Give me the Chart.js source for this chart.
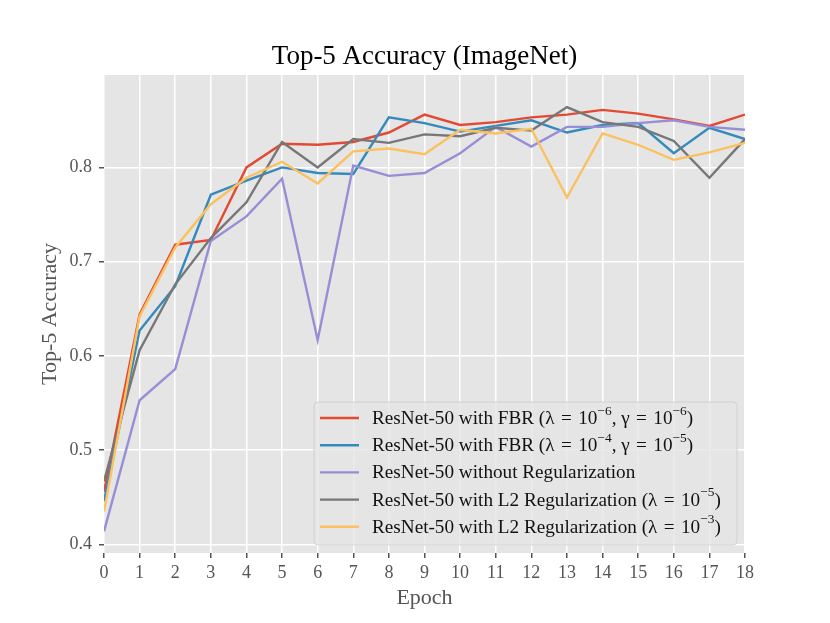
<!DOCTYPE html>
<html>
<head>
<meta charset="utf-8">
<title>Top-5 Accuracy (ImageNet)</title>
<script src="https://cdn.jsdelivr.net/npm/chart.js@4.4.1/dist/chart.umd.min.js"></script>
<style>
  html, body { margin: 0; padding: 0; background: #fff; }
  canvas { display: block; }
</style>
</head>
<body>
<canvas id="accChart" width="830" height="623"></canvas>
<script>
// data
const epochs = [0, 1, 2, 3, 4, 5, 6, 7, 8, 9, 10, 11, 12, 13, 14, 15, 16, 17, 18];
const yTicks = [0.4, 0.5, 0.6, 0.7, 0.8];

const fbrSmall = [0.456, 0.644, 0.718, 0.723, 0.800, 0.825, 0.824, 0.827, 0.837, 0.856, 0.845, 0.848, 0.853, 0.856, 0.861, 0.857, 0.851, 0.844, 0.856];
const fbrLarge = [0.446, 0.627, 0.674, 0.771, 0.786, 0.800, 0.794, 0.793, 0.853, 0.847, 0.838, 0.844, 0.850, 0.837, 0.845, 0.847, 0.815, 0.842, 0.830];
const noReg    = [0.414, 0.553, 0.586, 0.722, 0.748, 0.788, 0.617, 0.802, 0.791, 0.794, 0.815, 0.843, 0.822, 0.843, 0.843, 0.847, 0.850, 0.843, 0.840];
const l2Small  = [0.467, 0.606, 0.676, 0.725, 0.763, 0.827, 0.800, 0.830, 0.826, 0.835, 0.833, 0.842, 0.839, 0.864, 0.848, 0.843, 0.828, 0.789, 0.830];
const l2Large  = [0.435, 0.642, 0.715, 0.761, 0.789, 0.806, 0.783, 0.817, 0.820, 0.814, 0.840, 0.836, 0.841, 0.768, 0.836, 0.824, 0.808, 0.816, 0.826];

const seriesLabels = [
    "ResNet-50 with FBR (λ = 10^{−6}, γ = 10^{−6})",
    "ResNet-50 with FBR (λ = 10^{−4}, γ = 10^{−5})",
    "ResNet-50 without Regularization",
    "ResNet-50 with L2 Regularization (λ = 10^{−5})",
    "ResNet-50 with L2 Regularization (λ = 10^{−3})"
];
const seriesValues = [fbrSmall, fbrLarge, noReg, l2Small, l2Large];
const seriesColors = ["#E24A33", "#348ABD", "#988ED5", "#777777", "#FBC15E"];

const serif = "'Liberation Serif', 'DejaVu Serif', serif";

// split "10^{-6}" style markup into plain / superscript pieces,
// and give "=" a bit of the wider spacing that math mode uses
function splitLabel(label) {
    let parts = [];
    let re = /\^\{([^}]*)\}/g;
    let last = 0, m;
    let plain = s => s.replace(/ = /g, "\u2004=\u2004");
    while ((m = re.exec(label)) !== null) {
        if (m.index > last) parts.push({ t: plain(label.slice(last, m.index)), sup: false });
        parts.push({ t: m[1], sup: true });
        last = re.lastIndex;
    }
    if (last < label.length) parts.push({ t: plain(label.slice(last)), sup: false });
    return parts;
}

// grey panel behind the plot
const panelBg = {
    id: "panelBg",
    beforeDraw(chart) {
        let a = chart.chartArea;
        let ctx = chart.ctx;
        ctx.save();
        ctx.fillStyle = "#E5E5E5";
        ctx.fillRect(a.left, a.top, a.right - a.left, a.bottom - a.top);
        ctx.restore();
    }
};

// legend drawn inside the axes, lower right
const innerLegend = {
    id: "innerLegend",
    afterDatasetsDraw(chart) {
        let ctx = chart.ctx;
        let a = chart.chartArea;
        let boxW = 423, boxH = 143;
        let x0 = a.right - 8 - boxW;
        let y0 = a.bottom - 8 - boxH;
        let fontSize = 19.2;

        ctx.save();
        ctx.beginPath();
        ctx.roundRect(x0, y0, boxW, boxH, 4);
        ctx.fillStyle = "rgba(229,229,229,0.8)";
        ctx.fill();
        ctx.strokeStyle = "rgba(204,204,204,0.8)";
        ctx.lineWidth = 1;
        ctx.stroke();

        seriesLabels.forEach((label, i) => {
            let cy = y0 + 16 + i * 27.2;
            ctx.strokeStyle = seriesColors[i];
            ctx.lineWidth = 2.4;
            ctx.beginPath();
            ctx.moveTo(x0 + 6, cy);
            ctx.lineTo(x0 + 45, cy);
            ctx.stroke();

            let tx = x0 + 58;
            ctx.fillStyle = "#111";
            ctx.textBaseline = "middle";
            ctx.textAlign = "left";
            splitLabel(label).forEach(p => {
                if (p.sup) {
                    ctx.font = (fontSize * 0.7) + "px " + serif;
                    ctx.fillText(p.t, tx, cy - fontSize * 0.36);
                } else {
                    ctx.font = fontSize + "px " + serif;
                    ctx.fillText(p.t, tx, cy + 1);
                }
                tx += ctx.measureText(p.t).width;
            });
        });
        ctx.restore();
    }
};

let datasets = seriesValues.map((vals, i) => ({
    label: seriesLabels[i],
    data: epochs.map((e, j) => ({ x: e, y: vals[j] })),
    borderColor: seriesColors[i],
    backgroundColor: seriesColors[i],
    borderWidth: 2.4,
    pointRadius: 0,
    tension: 0,
    fill: false,
    order: seriesValues.length - i
}));

let ctx = document.getElementById("accChart").getContext("2d");

let chart = new Chart(ctx, {
    type: "line",
    data: { datasets: datasets },
    plugins: [panelBg, innerLegend],
    options: {
        responsive: false,
        animation: false,
        layout: { padding: { top: 0, right: 85, bottom: 0, left: 0 } },
        plugins: {
            legend: { display: false },
            tooltip: { enabled: false },
            title: {
                display: true,
                fullSize: false,
                text: "Top-5 Accuracy (ImageNet)",
                color: "#000",
                font: { family: serif, size: 27, weight: "normal" },
                padding: { top: 41, bottom: 1.6 }
            }
        },
        scales: {
            x: {
                type: "linear",
                min: 0,
                max: 18,
                afterFit(scale) { scale.height = 70; },
                border: { display: false },
                grid: { color: "#FFFFFF", lineWidth: 1.5, tickColor: "#555555", tickLength: 5 },
                ticks: {
                    stepSize: 1,
                    autoSkip: false,
                    maxRotation: 0,
                    padding: 4,
                    color: "#555555",
                    font: { family: serif, size: 18 }
                },
                title: {
                    display: true,
                    text: "Epoch",
                    color: "#555555",
                    font: { family: serif, size: 22 },
                    padding: { top: 0, bottom: 12 }
                }
            },
            y: {
                min: 0.391,
                max: 0.898,
                afterFit(scale) { scale.width = 104; },
                afterBuildTicks(scale) {
                    scale.ticks = yTicks.map(v => ({ value: v }));
                },
                border: { display: false },
                grid: { color: "#FFFFFF", lineWidth: 1.5, tickColor: "#555555", tickLength: 5 },
                ticks: {
                    padding: 7,
                    color: "#555555",
                    font: { family: serif, size: 18 },
                    callback: v => v.toFixed(1)
                },
                title: {
                    display: true,
                    text: "Top-5 Accuracy",
                    color: "#555555",
                    font: { family: serif, size: 22 },
                    padding: { top: 37, bottom: 0 }
                }
            }
        }
    }
});
</script>
</body>
</html>
